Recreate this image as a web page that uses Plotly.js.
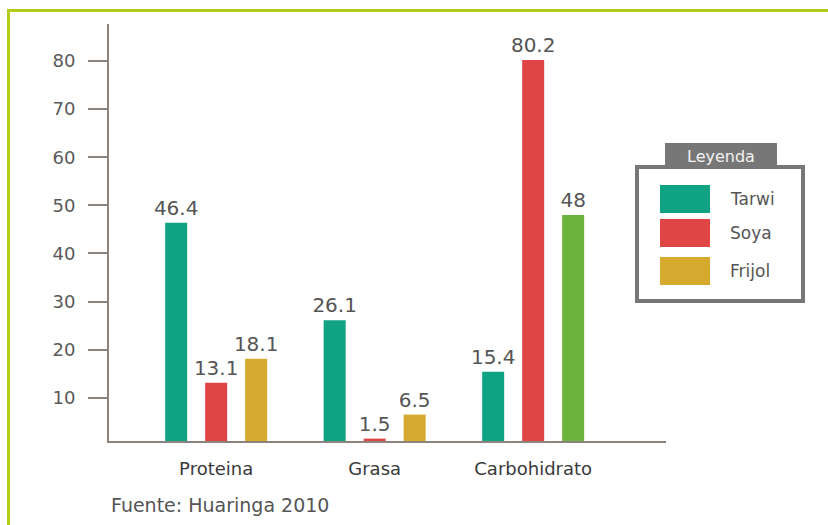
<!DOCTYPE html>
<html>
<head>
<meta charset="utf-8">
<script src="https://cdn.plot.ly/plotly-3.0.1.min.js"></script>
<style>
  html, body { margin: 0; padding: 0; background: #ffffff; width: 828px; height: 525px; overflow: hidden; }
  #frame { position: absolute; left: 7px; top: 9px; width: 840px; height: 540px;
           border-top: 3px solid #b4cb19; border-left: 3px solid #b4cb19; }
  #chart { position: absolute; left: 0; top: 0; width: 828px; height: 525px; }
</style>
</head>
<body>
<div id="frame"></div>
<div id="chart"></div>
<script>
// ---- data ----
const categories = ['Proteina', 'Grasa', 'Carbohidrato'];
const seriesNames = ['Tarwi', 'Soya', 'Frijol'];
const tarwi = [46.4, 26.1, 15.4];
const soya = [13.1, 1.5, 80.2];
const frijol = [18.1, 6.5, 48];
const yTicks = [10, 20, 30, 40, 50, 60, 70, 80];
const sourceText = 'Fuente: Huaringa 2010';
const legendTitle = 'Leyenda';

// ---- styles ----
const FONT = 'DejaVu Sans, Verdana, sans-serif';
const AXIS = '#8c837c';
const SERIES_COLORS = ['#0fa383', '#e04545', '#d6aa2e'];
const FRIJOL_BAR_COLORS = ['#d6aa2e', '#d6aa2e', '#6cb33b'];
const values = [tarwi, soya, frijol];

const traces = seriesNames.map((name, i) => ({
  type: 'bar',
  name: name,
  x: categories,
  y: values[i],
  text: values[i].map(v => String(v)),
  textposition: 'outside',
  textfont: { family: FONT, size: 20, color: '#555555' },
  constraintext: 'none',
  cliponaxis: false,
  marker: { color: i === 2 ? FRIJOL_BAR_COLORS : SERIES_COLORS[i] },
  hoverinfo: 'skip'
}));

// plot area in pixels: x 109..666, y 24..441
const L = 109, R = 666, T = 24, B = 441;
const px = x => (x - L) / (R - L);
const py = y => (B - y) / (B - T);

const shapes = [];
const annotations = [];

// legend box and tab
shapes.push({ type: 'rect', xref: 'paper', yref: 'paper', x0: px(637), x1: px(803), y0: py(167), y1: py(301),
  line: { color: '#777777', width: 4 }, fillcolor: 'rgba(0,0,0,0)' });
shapes.push({ type: 'rect', xref: 'paper', yref: 'paper', x0: px(665), x1: px(777), y0: py(143), y1: py(168),
  line: { width: 0 }, fillcolor: '#777777' });
annotations.push({ xref: 'paper', yref: 'paper', x: px(721), y: py(156), text: legendTitle, showarrow: false,
  xanchor: 'center', yanchor: 'middle', font: { family: FONT, size: 16, color: '#f2f2f2' } });

const swatchTops = [185, 219, 257];
seriesNames.forEach((name, i) => {
  const top = swatchTops[i];
  shapes.push({ type: 'rect', xref: 'paper', yref: 'paper', x0: px(660), x1: px(710), y0: py(top + 28), y1: py(top),
    line: { width: 0 }, fillcolor: SERIES_COLORS[i] });
  annotations.push({ xref: 'paper', yref: 'paper', x: px(728), y: py(top + 14), text: name, showarrow: false,
    xanchor: 'left', yanchor: 'middle', font: { family: FONT, size: 17, color: '#555555' } });
});

annotations.push({ xref: 'paper', yref: 'paper', x: px(109), y: py(505), text: sourceText, showarrow: false,
  xanchor: 'left', yanchor: 'middle', font: { family: FONT, size: 19, color: '#555555' } });

const layout = {
  width: 828, height: 525,
  margin: { l: L, r: 828 - R, t: T, b: 525 - B, pad: 0 },
  paper_bgcolor: 'rgba(0,0,0,0)',
  plot_bgcolor: 'rgba(0,0,0,0)',
  showlegend: false,
  hovermode: false,
  barmode: 'group',
  bargap: 0.243,
  bargroupgap: 0.45,
  font: { family: FONT, color: '#555555' },
  xaxis: {
    type: 'category',
    range: [-0.676, 2.838],
    showline: true, linecolor: AXIS, linewidth: 2,
    ticks: '', showgrid: false, zeroline: false,
    tickfont: { family: FONT, size: 18, color: '#3a3a3a' },
    ticklabelstandoff: 10,
    fixedrange: true
  },
  yaxis: {
    range: [1, 87.7],
    tickvals: yTicks,
    ticktext: yTicks.map(String),
    ticks: 'outside', ticklen: 19, tickwidth: 2, tickcolor: AXIS,
    showline: true, linecolor: AXIS, linewidth: 2,
    showgrid: false, zeroline: false,
    tickfont: { family: FONT, size: 18, color: '#5a5a5a' },
    ticklabelstandoff: 9,
    fixedrange: true
  },
  shapes: shapes,
  annotations: annotations
};

Plotly.newPlot('chart', traces, layout, { displayModeBar: false, staticPlot: true });
</script>
</body>
</html>
